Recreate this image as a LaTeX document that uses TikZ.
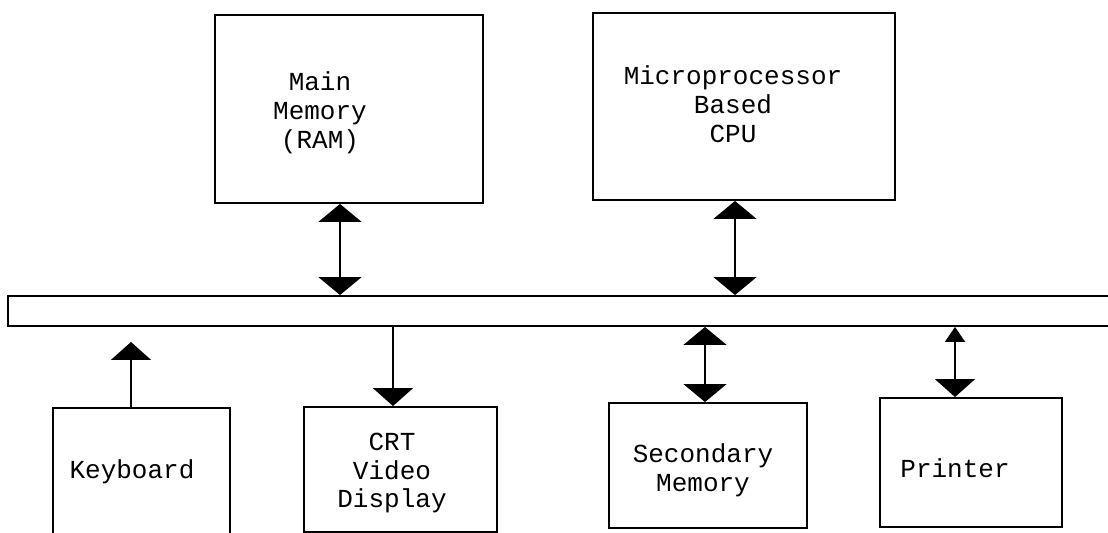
\documentclass[tikz,border=0pt]{standalone}
\usepackage{fontspec}
\usepackage{tikz}
\usetikzlibrary{arrows.meta}
\newfontfamily\typewriter{Liberation Mono}

\begin{document}
\begin{tikzpicture}[x=0.02cm,y=-0.02cm]
  \tikzset{unit/.style = {draw,line width=1.1pt,inner sep=0pt}}
  \tikzset{caption/.style = {align=center,inner sep=1pt,font=\typewriter\fontsize{14.8}{16.5}\selectfont}}
  \tikzset{both/.style = {line width=1.1pt,{Triangle[width=0.86cm,length=0.36cm]}-{Triangle[width=0.86cm,length=0.36cm]}}}
  \tikzset{up/.style = {line width=1.1pt,-{Triangle[width=0.8cm,length=0.36cm]}}}

  \useasboundingbox (0,0) rectangle (1108,533);
  \clip (0,0) rectangle (1108,533);

	% top row
	\node[unit,minimum width=5.36cm,minimum height=3.76cm] (RAM) at (349,109) {};
	\node[unit,minimum width=6.04cm,minimum height=3.74cm] (CPU) at (744,106.5) {};
	\node[caption] (RAMt) at (320,113) {Main\\Memory\\(RAM)};
	\node[caption] (CPUt) at (733,104) {Microprocessor\\Based\\CPU};

	% bus
	\node[unit,minimum width=23.84cm,minimum height=0.6cm] (BUS) at (604,311) {};

	% bottom row
	\node[unit,minimum width=3.54cm,minimum height=3.04cm] (KB) at (141.5,484) {};
	\node[unit,minimum width=3.86cm,minimum height=2.5cm] (CRT) at (400.5,469.5) {};
	\node[unit,minimum width=3.96cm,minimum height=2.5cm] (SEC) at (708,465.5) {};
	\node[unit,minimum width=3.64cm,minimum height=2.58cm] (PRN) at (971,462.5) {};
	\node[caption] (KBt) at (132,472) {Keyboard};
	\node[caption] (CRTt) at (392,473) {CRT\\Video\\Display};
	\node[caption] (SECt) at (703,470) {Secondary\\Memory};
	\node[caption] (PRNt) at (955,468) {Printer};

	\coordinate (KBtip) at (131,342);

	% links
       \foreach \from/\to/\xx in {RAM/BUS/340, CPU/BUS/735}{
    \path (\xx,0) coordinate (xl);
    \draw[both] (\from.south -| xl) -- (\to.north -| xl);}
       \foreach \from/\to/\xx in {BUS/SEC/705}{
    \path (\xx,0) coordinate (xl);
    \draw[both] (\from.south -| xl) -- (\to.north -| xl);}
    \path (393,0) coordinate (xl);
    \draw[up] (BUS.south -| xl) -- (CRT.north -| xl);
    \draw[up] (KB.north -| KBtip) -- (KBtip);
    \path (955,0) coordinate (xl);
    \draw[line width=1.1pt,{Triangle[width=0.4cm,length=0.3cm]}-{Triangle[width=0.8cm,length=0.36cm]}] (BUS.south -| xl) -- (PRN.north -| xl);
\end{tikzpicture}
\end{document}
